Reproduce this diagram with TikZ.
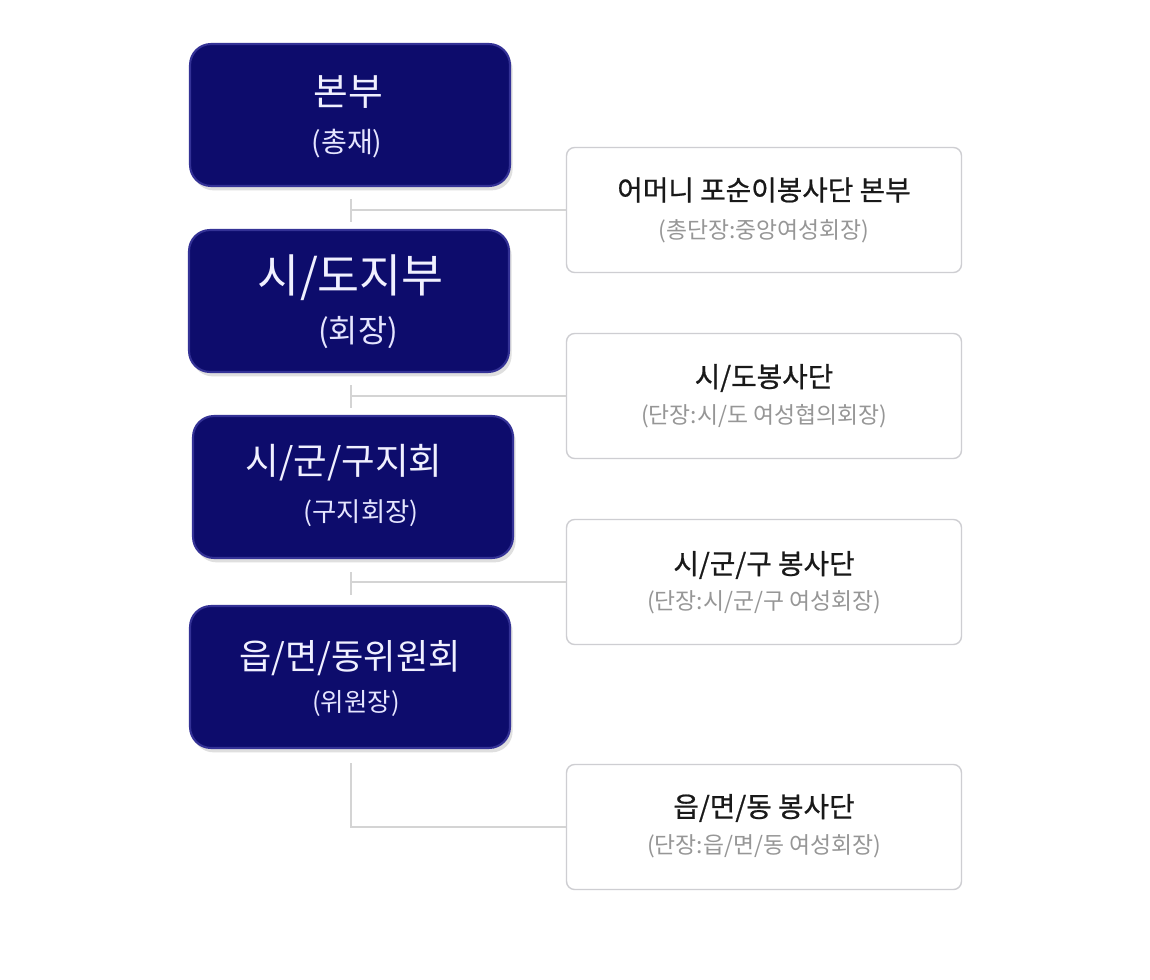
\documentclass[tikz,border=0pt]{standalone}
\usepackage{fontspec}
\setmainfont{Noto Sans CJK KR}
\newfontfamily\headfont[FakeBold=0.7]{Noto Sans CJK KR}
\usetikzlibrary{shadows}
\definecolor{navy}{RGB}{13,12,108}
\definecolor{navyedge}{RGB}{52,50,150}
\definecolor{boxline}{RGB}{206,206,210}
\definecolor{linkgray}{RGB}{212,212,212}
\definecolor{subgray}{RGB}{150,150,150}
\definecolor{titleink}{RGB}{25,25,25}
\begin{document}
\begin{tikzpicture}[x=0.02cm,y=-0.02cm,
  level/.style={rectangle,rounded corners=0.42cm,fill=navy,draw=navyedge,line width=1.2pt,
    minimum width=6.4cm,minimum height=2.84cm,
    drop shadow={opacity=0.25,shadow xshift=1.5pt,shadow yshift=-2.5pt}},
  team/.style={rectangle,rounded corners=0.16cm,draw=boxline,line width=0.8pt,fill=white,
    minimum width=7.9cm,minimum height=2.5cm},
  link/.style={draw=linkgray,line width=1.1pt},
  big/.style={text=white!94!blue,inner sep=0pt},
  small/.style={text=white!90!blue,inner sep=0pt},
  head/.style={text=titleink,font=\headfont\fontsize{15.8}{18}\selectfont,inner sep=0pt},
  sub/.style={text=subgray,font=\fontsize{13}{15}\selectfont,inner sep=0pt}]
  \useasboundingbox[fill=white] (0,0) rectangle (1150,980);

  \node[level] (l1) at (350,115) {};
  \node[level] (l2) at (349,301) {};
  \node[level] (l3) at (353,487) {};
  \node[level] (l4) at (350,677) {};

  \node[big,font=\fontsize{21.5}{24}\selectfont] (l1a) at (348,92) {본부};
  \node[small,font=\fontsize{16}{18}\selectfont] (l1b) at (347,144) {(총재)};
  \node[big,font=\fontsize{26}{29}\selectfont] (l2a) at (351,278) {시/도지부};
  \node[small,font=\fontsize{18}{20}\selectfont] (l2b) at (358,333) {(회장)};
  \node[big,font=\fontsize{20.8}{24}\selectfont] (l3a) at (344,463) {시/군/구지회};
  \node[small,font=\fontsize{15}{17}\selectfont] (l3b) at (361,513) {(구지회장)};
  \node[big,font=\fontsize{20}{23}\selectfont] (l4a) at (350,658) {읍/면/동위원회};
  \node[small,font=\fontsize{14.5}{17}\selectfont] (l4b) at (356,703) {(위원장)};

  \node[team] (t1) at (764,210) {};
  \node[team] (t2) at (764,396) {};
  \node[team] (t3) at (764,582) {};
  \node[team] (t4) at (764,827) {};

  \node[head] (t1a) at (764,190) {어머니 포순이봉사단 본부};
  \node[sub] (t1b) at (764,231) {(총단장:중앙여성회장)};
  \node[head] (t2a) at (764,378) {시/도봉사단};
  \node[sub] (t2b) at (764,416) {(단장:시/도 여성협의회장)};
  \node[head] (t3a) at (764,565) {시/군/구 봉사단};
  \node[sub] (t3b) at (764,602) {(단장:시/군/구 여성회장)};
  \node[head] (t4a) at (764,808) {읍/면/동 봉사단};
  \node[sub] (t4b) at (764,846) {(단장:읍/면/동 여성회장)};

  \coordinate (s1a) at (351,199);
  \coordinate (s1b) at (351,222);
  \coordinate (s2a) at (351,385);
  \coordinate (s2b) at (351,408);
  \coordinate (s3a) at (351,572);
  \coordinate (s3b) at (351,595);
  \coordinate (s4a) at (351,763);

  \draw[link] (s1a) -- (s1b);
  \draw[link] (t1.west) -- (t1.west -| s1a);
  \draw[link] (s2a) -- (s2b);
  \draw[link] (t2.west) -- (t2.west -| s2a);
  \draw[link] (s3a) -- (s3b);
  \draw[link] (t3.west) -- (t3.west -| s3a);
  \draw[link] (s4a) |- (t4.west);
\end{tikzpicture}
\end{document}
